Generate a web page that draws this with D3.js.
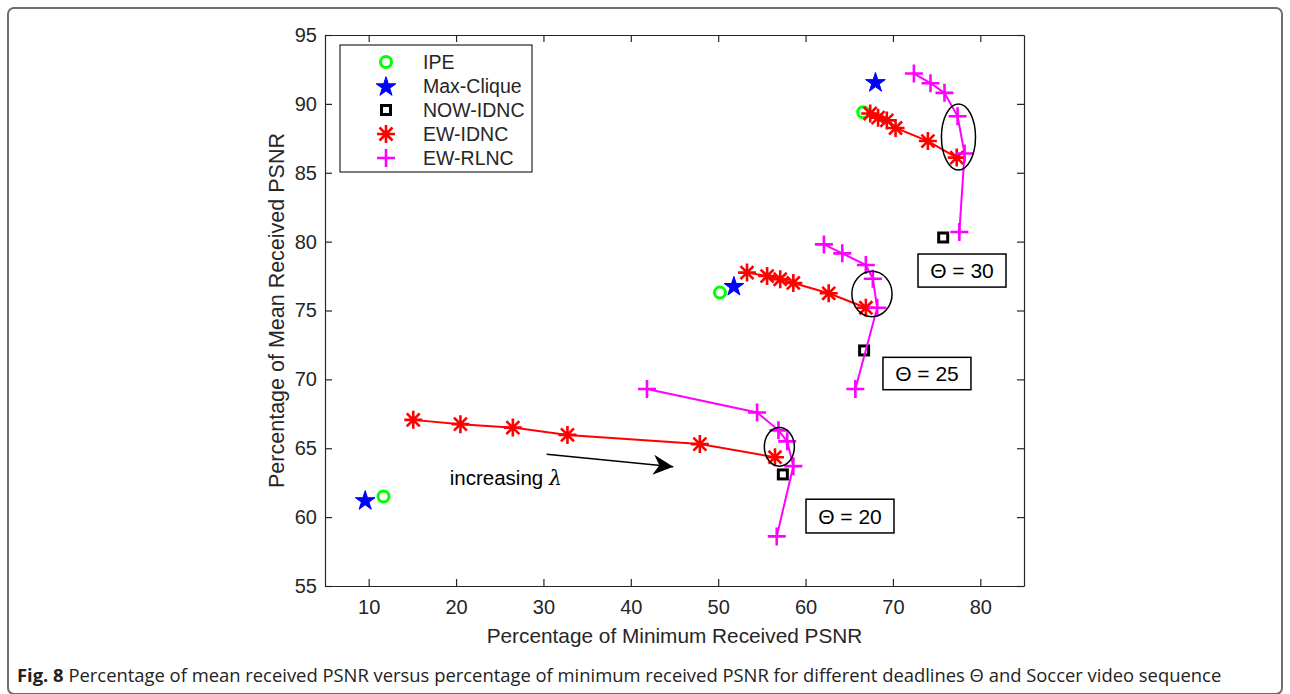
<!DOCTYPE html>
<html>
<head>
<meta charset="utf-8">
<script src="https://cdn.jsdelivr.net/npm/d3@7"></script>
<style>
  html, body { margin: 0; padding: 0; background: #fff; }
  svg { display: block; }
</style>
</head>
<body>
<svg id="chart"></svg>
<script>
// Series data, one entry per deadline (Theta = 20, 25, 30)
const deadlines = [20, 25, 30];

const ipe = [[11.7, 61.5], [50.2, 76.3], [66.6, 89.4]];
const maxClique = [[9.6, 61.25], [51.8, 76.8], [68.0, 91.6]];
const nowIdnc = [[57.4, 63.1], [66.7, 72.1], [75.75, 80.3]];

const ewIdnc = [
  [[15.1, 67.06], [20.5, 66.75], [26.5, 66.5], [32.75, 65.97], [47.9, 65.3], [56.5, 64.35]],
  [[53.3, 77.75], [55.6, 77.5], [57.1, 77.27], [58.6, 77.0], [62.65, 76.25], [66.9, 75.2]],
  [[67.4, 89.3], [68.3, 89.0], [69.3, 88.8], [70.3, 88.25], [74.0, 87.3], [77.3, 86.1]]
];

const ewRlnc = [
  [[41.85, 69.3], [54.45, 67.6], [56.9, 66.3], [57.9, 65.5], [58.6, 63.7], [56.7, 58.6]],
  [[62.1, 79.8], [64.2, 79.15], [66.9, 78.3], [67.7, 77.3], [68.2, 75.2], [65.7, 69.3]],
  [[72.4, 92.2], [74.3, 91.5], [75.9, 90.8], [77.4, 89.1], [78.2, 86.4], [77.6, 80.7]]
];

// Ellipses around the knee points: [cx, cy, rx, ry] in data units
const ellipses = [[57.0, 65.1, 1.72, 1.4], [67.6, 76.2, 2.3, 1.65], [77.5, 87.6, 1.95, 2.4]];
// Theta label boxes: [x0, x1, yTop, yBottom] in data units
const thetaBoxes = [[60.05, 70.12, 61.3, 58.85], [68.86, 78.93, 71.6, 69.25], [72.87, 82.94, 79.1, 76.7]];
// Arrow "increasing lambda": from, to, label position
const arrowFrom = [30.37, 64.56], arrowTo = [44.86, 63.66];
const arrowLabel = [25.7, 62.3];

const xTicks = [10, 20, 30, 40, 50, 60, 70, 80];
const yTicks = [55, 60, 65, 70, 75, 80, 85, 90, 95];

const W = 1290, H = 694;
const svg = d3.select('#chart').attr('width', W).attr('height', H);

// Outer figure frame
svg.append('rect')
  .attr('x', 8).attr('y', 8)
  .attr('width', 1274).attr('height', 686)
  .attr('rx', 6)
  .attr('fill', 'none')
  .attr('stroke', '#6e6e6e')
  .attr('stroke-width', 2);

const x = d3.scaleLinear().domain([5, 85]).range([325, 1024]);
const y = d3.scaleLinear().domain([55, 95]).range([586, 35]);

const axisColor = '#262626';
const font = '"Liberation Sans", Arial, sans-serif';

// Axes (MATLAB box style, ticks inward)
const xAxis = svg.append('g').attr('transform', `translate(0,${y(55)})`)
  .call(d3.axisBottom(x).tickValues(xTicks).tickSizeInner(-7).tickSizeOuter(0).tickPadding(14));
const yAxis = svg.append('g').attr('transform', `translate(${x(5)},0)`)
  .call(d3.axisLeft(y).tickValues(yTicks).tickSizeInner(-7).tickSizeOuter(0).tickPadding(8));
const xTop = svg.append('g').attr('transform', `translate(0,${y(95)})`)
  .call(d3.axisTop(x).tickValues(xTicks).tickSizeInner(-7).tickSizeOuter(0).tickFormat(''));
const yRight = svg.append('g').attr('transform', `translate(${x(85)},0)`)
  .call(d3.axisRight(y).tickValues(yTicks).tickSizeInner(-7).tickSizeOuter(0).tickFormat(''));

[xAxis, yAxis, xTop, yRight].forEach(g => {
  g.select('.domain').attr('stroke', axisColor).attr('stroke-width', 1.2);
  g.selectAll('.tick line').attr('stroke', axisColor).attr('stroke-width', 1.2);
  g.selectAll('.tick text').attr('fill', axisColor).style('font-family', font).style('font-size', '20px');
});

// Axis labels
svg.append('text')
  .attr('x', (x(5) + x(85)) / 2).attr('y', 643)
  .attr('text-anchor', 'middle')
  .style('font-family', font).style('font-size', '20.8px').attr('fill', axisColor)
  .text('Percentage of Minimum Received PSNR');
svg.append('text')
  .attr('transform', `translate(284,${(y(55) + y(95)) / 2}) rotate(-90)`)
  .attr('text-anchor', 'middle')
  .style('font-family', font).style('font-size', '21.5px').attr('fill', axisColor)
  .text('Percentage of Mean Received PSNR');

// Marker drawing helpers
function drawPlus(g, px, py) {
  const s = 9;
  g.append('path')
    .attr('d', `M${px - s},${py}H${px + s}M${px},${py - s}V${py + s}`)
    .attr('stroke', '#ff00ff').attr('stroke-width', 2.6).attr('fill', 'none');
}
function drawAsterisk(g, px, py) {
  const s = 9, d = s * 0.72;
  g.append('path')
    .attr('d', `M${px},${py - s}V${py + s}M${px - d},${py - d}L${px + d},${py + d}M${px - d},${py + d}L${px + d},${py - d}M${px - s},${py}H${px + s}`)
    .attr('stroke', '#ff0000').attr('stroke-width', 2.6).attr('fill', 'none');
}
function drawCircle(g, px, py) {
  g.append('circle').attr('cx', px).attr('cy', py).attr('r', 5.5)
    .attr('fill', 'none').attr('stroke', '#00ff00').attr('stroke-width', 3);
}
function drawStar(g, px, py) {
  g.append('path')
    .attr('d', d3.symbol(d3.symbolStar, 120)())
    .attr('transform', `translate(${px},${py + 1})`)
    .attr('fill', '#0000ff').attr('stroke', '#0000ff').attr('stroke-width', 1);
}
function drawSquare(g, px, py) {
  g.append('rect').attr('x', px - 4.5).attr('y', py - 4.5).attr('width', 9).attr('height', 9)
    .attr('fill', 'none').attr('stroke', '#000').attr('stroke-width', 3);
}

const plot = svg.append('g');
const line = d3.line().x(d => x(d[0])).y(d => y(d[1]));

deadlines.forEach((dl, i) => {
  drawCircle(plot, x(ipe[i][0]), y(ipe[i][1]));
  drawStar(plot, x(maxClique[i][0]), y(maxClique[i][1]));
  drawSquare(plot, x(nowIdnc[i][0]), y(nowIdnc[i][1]));

  plot.append('path').datum(ewIdnc[i]).attr('d', line)
    .attr('fill', 'none').attr('stroke', '#ff0000').attr('stroke-width', 2);
  ewIdnc[i].forEach(p => drawAsterisk(plot, x(p[0]), y(p[1])));

  plot.append('path').datum(ewRlnc[i]).attr('d', line)
    .attr('fill', 'none').attr('stroke', '#ff00ff').attr('stroke-width', 2);
  ewRlnc[i].forEach(p => drawPlus(plot, x(p[0]), y(p[1])));

  // ellipse annotation
  const e = ellipses[i];
  plot.append('ellipse')
    .attr('cx', x(e[0])).attr('cy', y(e[1]))
    .attr('rx', x(e[0] + e[2]) - x(e[0])).attr('ry', y(e[1] - e[3]) - y(e[1]))
    .attr('fill', 'none').attr('stroke', '#000').attr('stroke-width', 1.5);

  // Theta label box
  const b = thetaBoxes[i];
  plot.append('rect')
    .attr('x', x(b[0])).attr('y', y(b[2]))
    .attr('width', x(b[1]) - x(b[0])).attr('height', y(b[3]) - y(b[2]))
    .attr('fill', '#fff').attr('stroke', '#000').attr('stroke-width', 1.5);
  plot.append('text')
    .attr('x', (x(b[0]) + x(b[1])) / 2).attr('y', (y(b[2]) + y(b[3])) / 2 + 7.5)
    .attr('text-anchor', 'middle')
    .style('font-family', font).style('font-size', '21px').attr('fill', '#000')
    .text(`\u0398 = ${dl}`);
});

// Arrow annotation
const defs = svg.append('defs');
defs.append('marker').attr('id', 'arrowhead')
  .attr('viewBox', '0 0 10 10').attr('refX', 10).attr('refY', 5)
  .attr('markerWidth', 22).attr('markerHeight', 20).attr('markerUnits', 'userSpaceOnUse')
  .attr('orient', 'auto')
  .append('path').attr('d', 'M0,0L10,5L0,10L3,5Z').attr('fill', '#000');
plot.append('line')
  .attr('x1', x(arrowFrom[0])).attr('y1', y(arrowFrom[1]))
  .attr('x2', x(arrowTo[0])).attr('y2', y(arrowTo[1]))
  .attr('stroke', '#000').attr('stroke-width', 1.5)
  .attr('marker-end', 'url(#arrowhead)');
const lab = plot.append('text')
  .attr('x', x(arrowLabel[0])).attr('y', y(arrowLabel[1]))
  .attr('text-anchor', 'middle')
  .style('font-family', font).style('font-size', '20.5px').attr('fill', '#000');
lab.append('tspan').text('increasing ');
lab.append('tspan').style('font-family', '"DejaVu Serif", serif').style('font-style', 'italic').text('\u03bb');

// Legend
const legendItems = [
  { name: 'IPE', draw: drawCircle },
  { name: 'Max-Clique', draw: drawStar },
  { name: 'NOW-IDNC', draw: drawSquare },
  { name: 'EW-IDNC', draw: drawAsterisk },
  { name: 'EW-RLNC', draw: drawPlus }
];
const legend = svg.append('g');
legend.append('rect').attr('x', 340).attr('y', 45).attr('width', 192).attr('height', 127)
  .attr('fill', '#fff').attr('stroke', axisColor).attr('stroke-width', 1.2);
legendItems.forEach((it, i) => {
  const ly = 62 + i * 24;
  it.draw(legend, 386, ly);
  legend.append('text').attr('x', 423).attr('y', ly + 7)
    .style('font-family', font).style('font-size', '19.5px').attr('fill', axisColor)
    .text(it.name);
});

// Caption
const cap = svg.append('text').attr('x', 17).attr('y', 682)
  .style('font-family', '"Open Sans", "Noto Sans", sans-serif').style('font-size', '18.4px').attr('fill', '#222');
cap.append('tspan').style('font-weight', 'bold').text('Fig. 8');
cap.append('tspan').text(' Percentage of mean received PSNR versus percentage of minimum received PSNR for different deadlines \u0398 and Soccer video sequence');
</script>
</body>
</html>
